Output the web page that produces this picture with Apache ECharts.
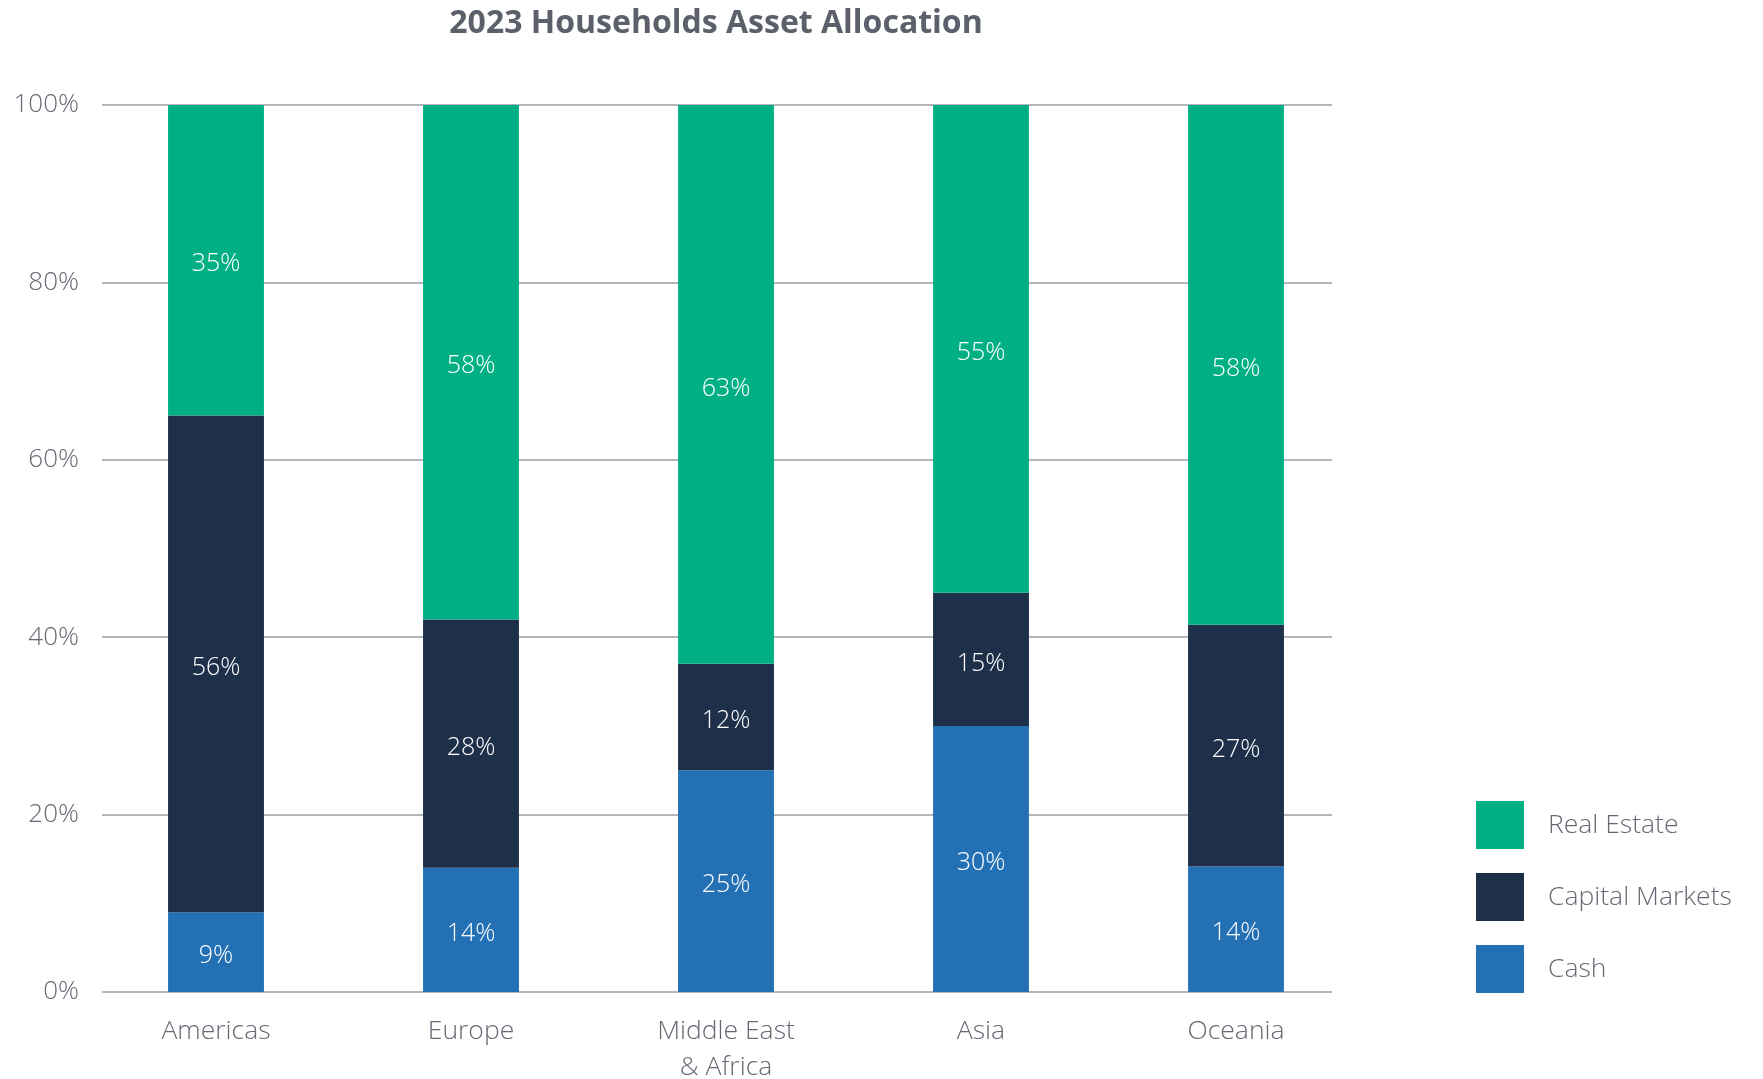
<!DOCTYPE html>
<html>
<head>
<meta charset="utf-8">
<title>2023 Households Asset Allocation</title>
<script src="https://cdn.jsdelivr.net/npm/echarts@6/dist/echarts.min.js"></script>
<style>
  html, body { margin: 0; padding: 0; background: #ffffff; }
  #chart { width: 1763px; height: 1079px; }
</style>
</head>
<body>
<div id="chart"></div>
<script>
// Regions and their household asset shares (percent, as labelled)
const regions = ['Americas', 'Europe', 'Middle East\n& Africa', 'Asia', 'Oceania'];
const cash = [9, 14, 25, 30, 14];
const capitalMarkets = [56, 28, 12, 15, 27];
const realEstate = [35, 58, 63, 55, 58];
const yTicks = [0, 20, 40, 60, 80, 100];

const COLORS = {
  realEstate: '#00b084',
  capital: '#1e2f4a',
  cash: '#2370b5'
};
const TEXT_GREY = '#646973';
const FONT = '"Open Sans", Lato, sans-serif';

// 100% stacked: each region's bar is scaled so its parts fill the column
const totals = regions.map((_, i) => cash[i] + capitalMarkets[i] + realEstate[i]);
const share = arr => arr.map((v, i) => v / totals[i] * 100);

function makeSeries(name, raw, color) {
  return {
    name: name,
    type: 'bar',
    stack: 'total',
    xAxisIndex: 1,
    yAxisIndex: 1,
    barWidth: '37.6%',
    data: share(raw),
    itemStyle: { color: color },
    label: {
      show: true,
      position: 'inside',
      offset: [0, 4],
      color: '#ffffff',
      fontFamily: FONT,
      fontWeight: 300,
      fontSize: 25,
      formatter: p => raw[p.dataIndex] + '%'
    },
    emphasis: { disabled: true }
  };
}

const chart = echarts.init(document.getElementById('chart'), null, { renderer: 'canvas' });

chart.setOption({
  animation: false,
  backgroundColor: '#ffffff',
  title: {
    text: '2023 Households Asset Allocation',
    left: 716,
    textAlign: 'center',
    top: 8,
    padding: 0,
    textStyle: {
      fontFamily: FONT,
      fontWeight: 'bold',
      fontSize: 32,
      color: '#5b606a'
    }
  },
  legend: {
    data: ['Real Estate', 'Capital Markets', 'Cash'],
    orient: 'vertical',
    left: 1476,
    top: 801,
    padding: 0,
    itemWidth: 48,
    itemHeight: 48,
    itemGap: 24,
    icon: 'rect',
    selectedMode: false,
    textStyle: {
      fontFamily: FONT,
      fontWeight: 300,
      fontSize: 26.5,
      color: TEXT_GREY,
      padding: [4, 0, 0, 19]
    }
  },
  grid: [
    // value-axis frame with gridlines
    { left: 102, top: 105, width: 1230, height: 887, containLabel: false, outerBoundsMode: 'none' },
    // category bands carrying the bars
    { left: 88.5, top: 105, width: 1275, height: 887, containLabel: false, outerBoundsMode: 'none' }
  ],
  xAxis: [
    {
      gridIndex: 0,
      type: 'category',
      data: regions,
      show: false
    },
    {
      gridIndex: 1,
      type: 'category',
      data: regions,
      axisLine: { show: false },
      axisTick: { show: false },
      axisLabel: {
        margin: 21,
        fontFamily: FONT,
        fontWeight: 300,
        fontSize: 26.5,
        lineHeight: 36,
        color: TEXT_GREY
      }
    }
  ],
  yAxis: [
    {
      gridIndex: 0,
      type: 'value',
      min: yTicks[0],
      max: yTicks[yTicks.length - 1],
      interval: yTicks[1] - yTicks[0],
      axisLine: { show: false },
      axisTick: { show: false },
      axisLabel: {
        margin: 23,
        fontFamily: FONT,
        fontWeight: 300,
        fontSize: 26,
        color: TEXT_GREY,
        padding: [8, 0, 0, 0],
        formatter: '{value}%'
      },
      splitLine: { show: true, lineStyle: { color: '#9a9ea6', width: 1.5 } }
    },
    {
      gridIndex: 1,
      type: 'value',
      min: 0,
      max: 100,
      show: false,
      splitLine: { show: false }
    }
  ],
  series: [
    makeSeries('Cash', cash, COLORS.cash),
    makeSeries('Capital Markets', capitalMarkets, COLORS.capital),
    makeSeries('Real Estate', realEstate, COLORS.realEstate)
  ]
});
</script>
</body>
</html>
